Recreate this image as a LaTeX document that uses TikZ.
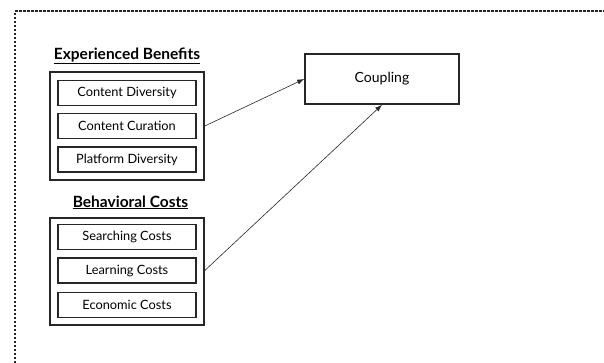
\documentclass[tikz,border=0pt]{standalone}
\usepackage{fontspec}
\setmainfont{Lato}
\usetikzlibrary{arrows.meta}
\begin{document}
\begin{tikzpicture}[x=1pt,y=-1pt,
  inner/.style={draw=black!85, line width=1.6pt, minimum width=138pt, minimum height=25pt, inner sep=0pt, font=\fontsize{12.8}{14}\selectfont},
  outer/.style={draw=black!85, line width=1.6pt, minimum width=154pt, inner sep=0pt},
  title/.style={font=\fontsize{15.5}{17}\selectfont\bfseries, inner sep=0pt, anchor=base},
  conn/.style={draw=black!85, line width=0.6pt, -{Latex[length=7pt,width=5pt]}}]
\useasboundingbox (0,0) rectangle (604,362);
\draw[black!85, line width=1.2pt, dash pattern=on 2.5pt off 1.5pt] (15,375) -- (15,11) -- (620,11);
% group 1
\node[title] (t1) at (127,59) {\underline{Experienced Benefits}};
\node[outer, minimum height=108pt] (o1) at (127,126) {};
\node[inner] (a1) at (127,93) {Content Diversity};
\node[inner] (a2) at (127,126) {Content Curation};
\node[inner] (a3) at (127,159.5) {Platform Diversity};
% group 2
\node[title] (t2) at (130.5,207) {\underline{Behavioral Costs}};
\node[outer, minimum height=107pt] (o2) at (127,271.5) {};
\node[inner] (b1) at (127,237) {Searching Costs};
\node[inner] (b2) at (127,270.5) {Learning Costs};
\node[inner] (b3) at (127,305) {Economic Costs};
% coupling
\node[draw=black!85, line width=1.6pt, minimum width=154pt, minimum height=50pt, inner sep=0pt, font=\fontsize{14}{16}\selectfont] (c) at (382,79) {Coupling};
\draw[conn] (o1.east |- a2) -- (c.west);
\draw[conn] (o2.east |- b2) -- (c.south);
\end{tikzpicture}
\end{document}
